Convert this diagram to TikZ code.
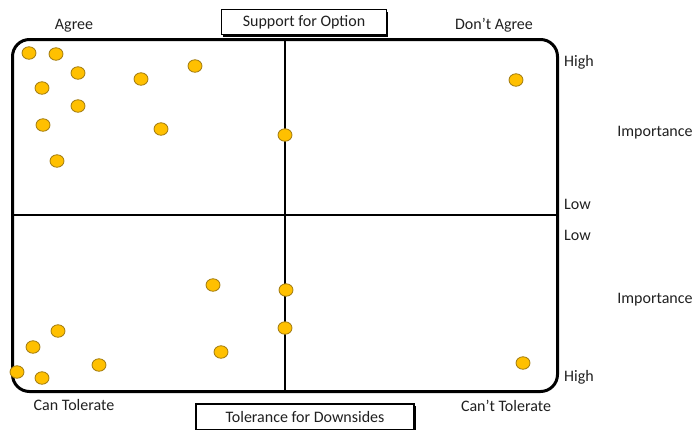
\documentclass[tikz,border=0pt]{standalone}
\usepackage{fontspec}
\setmainfont{Carlito}
\usetikzlibrary{shapes.geometric}
\definecolor{dotfill}{HTML}{FFC000}
\definecolor{dotline}{HTML}{A07A10}
\definecolor{txt}{HTML}{202020}
\tikzset{
  dot/.style={ellipse,draw=dotline,fill=dotfill,line width=0.8pt,minimum width=14pt,minimum height=12.5pt,inner sep=0pt},
  lbl/.style={font=\fontsize{16}{19}\selectfont,text=txt,inner sep=0pt},
  titlebox/.style={draw=black,line width=1.2pt,fill=white,font=\fontsize{16}{19}\selectfont,text=txt,inner sep=0pt},
  frame/.style={line width=3pt,rounded corners=17pt},
  axis/.style={line width=2pt}
}
\begin{document}
\begin{tikzpicture}[x=1pt,y=-1pt]
\useasboundingbox (0,0) rectangle (693,429);
% frame
\draw[frame] (12.5,39.5) rectangle (557.5,391.5);
\coordinate (vt) at (285,39.5);
\coordinate (vb) at (285,391.5);
\coordinate (hl) at (12.5,215);
\coordinate (hr) at (557.5,215);
\draw[axis] (vt) -- (vb);
\draw[axis] (hl) -- (hr);
% title boxes with shadow
\fill[black] (223,12) rectangle (388,37);
\node[titlebox,minimum width=165pt,minimum height=25pt] (sup) at (304,22) {Support for Option};
\fill[black] (198,406) rectangle (416,432);
\node[titlebox,minimum width=218pt,minimum height=26pt] (tol) at (305,417) {Tolerance for Downsides};
% labels
\node[lbl] (agree) at (74,26) {Agree};
\node[lbl] (dagree) at (494,25) {Don’t Agree};
\node[lbl,anchor=west] (h1) at (564,62) {High};
\node[lbl] (imp1) at (655,133) {Importance};
\node[lbl,anchor=west] (l1) at (564,204) {Low};
\node[lbl,anchor=west] (l2) at (564,235) {Low};
\node[lbl] (imp2) at (655,300) {Importance};
\node[lbl,anchor=west] (h2) at (564,377) {High};
\node[lbl] (can) at (74,405) {Can Tolerate};
\node[lbl] (cant) at (506,406) {Can’t Tolerate};
% dots top
\node[dot] (d1) at (29,53) {};
\node[dot] (d2) at (56,54) {};
\node[dot] (d3) at (78,73) {};
\node[dot] (d4) at (42,88) {};
\node[dot] (d5) at (78,106) {};
\node[dot] (d6) at (43,125) {};
\node[dot] (d7) at (57,161) {};
\node[dot] (d8) at (141,79) {};
\node[dot] (d9) at (195,66) {};
\node[dot] (d10) at (161,129) {};
\node[dot] (d11) at (285,135) {};
\node[dot] (d12) at (516,80) {};
% dots bottom
\node[dot] (e1) at (213,285) {};
\node[dot] (e2) at (286,290) {};
\node[dot] (e3) at (285,328) {};
\node[dot] (e4) at (221,352) {};
\node[dot] (e5) at (58,331) {};
\node[dot] (e6) at (33,347) {};
\node[dot] (e7) at (17,372) {};
\node[dot] (e8) at (42,378) {};
\node[dot] (e9) at (99,365) {};
\node[dot] (e10) at (523,363) {};
\end{tikzpicture}
\end{document}
